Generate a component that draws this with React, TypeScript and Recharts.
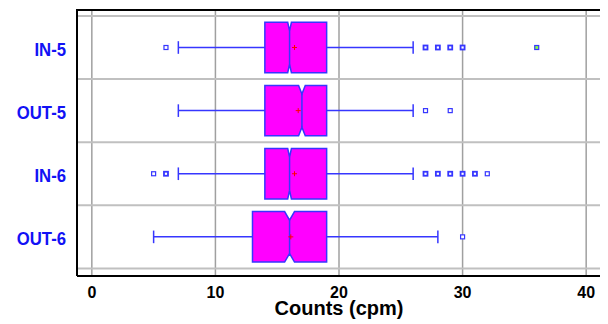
import {
  ScatterChart,
  Scatter,
  XAxis,
  YAxis,
  CartesianGrid,
  ReferenceLine,
  ReferenceArea,
} from "recharts";

const categories = ["IN-5", "OUT-5", "IN-6", "OUT-6"];
const q1 = [14, 14, 14, 13];
const medians = [16, 17, 16, 16];
const q3 = [19, 19, 19, 19];
const whiskerLow = [7, 7, 7, 5];
const whiskerHigh = [26, 26, 26, 28];
const means = [16.4, 16.7, 16.4, 16.1];
const notchHalf = [0.15, 0.27, 0.15, 0.4];
const outliers = [
  [6, 27, 28, 29, 30, 36],
  [27, 29],
  [5, 6, 27, 28, 29, 30, 31, 32],
  [30],
];
const outlierCounts = [
  [1, 3, 3, 3, 2, 1],
  [1, 1],
  [1, 3, 3, 3, 3, 3, 2, 1],
  [1],
];
const farOutliers = [[36], [], [], []];
const xMajorTicks = [0, 10, 20, 30, 40];
const xMinorTicks = [0, 2, 4, 6, 8, 10, 12, 14, 16, 18, 20, 22, 24, 26, 28, 30, 32, 34, 36, 38, 40];
const rowTicks = [1, 2, 3, 4];
const rowEdges = [0.5, 1.5, 2.5, 3.5, 4.5];

const X_DOMAIN = [-1.2, 41.2];
const Y_DOMAIN = [0.39, 4.62];
const BLUE = "#3636ff";
const FONT = "'Liberation Sans', Arial, sans-serif";

const outlierPoints = outliers.flatMap((vals, i) =>
  vals.map((v, j) => ({
    x: v,
    y: i + 1,
    n: outlierCounts[i][j],
    far: farOutliers[i].includes(v),
  })),
);
const meanPoints = means.map((m, i) => ({ x: m, y: i + 1 }));

function NotchedBox(props: any) {
  const { x, y, width, height, idx } = props;
  const lo = q1[idx];
  const hi = q3[idx];
  const px = (v: number) => x + ((v - lo) / (hi - lo)) * width;
  const med = px(medians[idx]);
  const nlo = px(medians[idx] - notchHalf[idx]);
  const nhi = px(medians[idx] + notchHalf[idx]);
  const d = height * 0.17;
  const top = y;
  const bot = y + height;
  const pts = [
    [x, top],
    [nlo, top],
    [med, top + d],
    [nhi, top],
    [x + width, top],
    [x + width, bot],
    [nhi, bot],
    [med, bot - d],
    [nlo, bot],
    [x, bot],
  ]
    .map((p) => p.join(","))
    .join(" ");
  return (
    <g>
      <polygon points={pts} fill="#ff00ff" stroke={BLUE} strokeWidth={1.5} />
      <line x1={med} y1={top + d} x2={med} y2={bot - d} stroke={BLUE} strokeWidth={1.5} />
    </g>
  );
}

function OutlierMark(props: any) {
  const { cx, cy, payload } = props;
  return (
    <rect
      x={cx - 2}
      y={cy - 2}
      width={4}
      height={4}
      fill={payload.far ? "#88ff44" : "#fff"}
      stroke={BLUE}
      strokeWidth={payload.n > 1 ? 1.8 : 1.2}
    />
  );
}

function MeanMark(props: any) {
  const { cx, cy } = props;
  return (
    <g stroke="#ff0000" strokeWidth={1}>
      <line x1={cx - 2.5} y1={cy} x2={cx + 2.5} y2={cy} />
      <line x1={cx} y1={cy - 2.5} x2={cx} y2={cy + 2.5} />
    </g>
  );
}

function RowTick(props: any) {
  const { x, y, payload } = props;
  return (
    <text
      transform={`translate(${x},${y + 8.5}) scale(0.88,1)`}
      textAnchor="end"
      fontSize={19}
      fontWeight="bold"
      fontFamily={FONT}
      fill="#1212f5"
    >
      {categories[payload.value - 1]}
    </text>
  );
}

export default function App() {
  return (
    <div style={{ width: 600, height: 316 }}>
      <ScatterChart
        width={600}
        height={316}
        margin={{ top: 1, right: 7, bottom: 0, left: 0 }}
      >
        <CartesianGrid horizontal={false} stroke="#a0a0a0" strokeWidth={1.5} />
        {rowEdges.map((r) => (
          <ReferenceLine key={r} y={r} stroke="#c0c0c0" strokeWidth={2} />
        ))}
        <XAxis
          type="number"
          dataKey="x"
          domain={X_DOMAIN}
          allowDataOverflow
          ticks={xMajorTicks}
          height={48}
          tickLine={false}
          tickSize={6}
          tickMargin={5}
          axisLine={{ stroke: "#000", strokeWidth: 2 }}
          tick={{ fontSize: 16, fontWeight: "bold", fill: "#000", fontFamily: FONT }}
          label={{
            value: "Counts (cpm)",
            position: "insideBottom",
            offset: 9,
            style: { fontSize: 20, fontWeight: "bold", fill: "#000", fontFamily: FONT },
          }}
        />
        <XAxis
          xAxisId="botMinor"
          type="number"
          domain={X_DOMAIN}
          allowDataOverflow
          ticks={xMinorTicks}
          mirror
          height={1}
          tick={false}
          tickSize={3}
          axisLine={false}
          tickLine={{ stroke: "#000", strokeWidth: 1 }}
        />
        <XAxis
          xAxisId="botMajor"
          type="number"
          domain={X_DOMAIN}
          allowDataOverflow
          ticks={xMajorTicks}
          mirror
          height={1}
          tick={false}
          tickSize={5}
          axisLine={false}
          tickLine={{ stroke: "#000", strokeWidth: 1.5 }}
        />
        <XAxis
          xAxisId="topMinor"
          orientation="top"
          type="number"
          domain={X_DOMAIN}
          allowDataOverflow
          ticks={xMinorTicks}
          mirror
          height={1}
          tick={false}
          tickSize={3}
          axisLine={{ stroke: "#000", strokeWidth: 2 }}
          tickLine={{ stroke: "#000", strokeWidth: 1 }}
        />
        <XAxis
          xAxisId="topMajor"
          orientation="top"
          type="number"
          domain={X_DOMAIN}
          allowDataOverflow
          ticks={xMajorTicks}
          mirror
          height={1}
          tick={false}
          tickSize={5}
          axisLine={false}
          tickLine={{ stroke: "#000", strokeWidth: 1.5 }}
        />
        <YAxis
          type="number"
          dataKey="y"
          domain={Y_DOMAIN}
          allowDataOverflow
          reversed
          ticks={rowTicks}
          width={69}
          tickLine={false}
          tickSize={0}
          tickMargin={11}
          axisLine={{ stroke: "#000", strokeWidth: 2 }}
          tick={<RowTick />}
        />
        <YAxis
          yAxisId="right"
          orientation="right"
          type="number"
          domain={Y_DOMAIN}
          allowDataOverflow
          reversed
          mirror
          width={1}
          ticks={rowTicks}
          tick={false}
          tickLine={false}
          axisLine={{ stroke: "#000", strokeWidth: 2 }}
        />
        {categories.map((c, i) => (
          <ReferenceArea
            key={`box-${c}`}
            x1={q1[i]}
            x2={q3[i]}
            y1={i + 1 - 0.4}
            y2={i + 1 + 0.4}
            shape={(p: any) => <NotchedBox {...p} idx={i} />}
          />
        ))}
        {categories.map((c, i) => (
          <ReferenceLine
            key={`wl-${c}`}
            segment={[
              { x: whiskerLow[i], y: i + 1 },
              { x: q1[i], y: i + 1 },
            ]}
            stroke={BLUE}
            strokeWidth={1.5}
          />
        ))}
        {categories.map((c, i) => (
          <ReferenceLine
            key={`wh-${c}`}
            segment={[
              { x: q3[i], y: i + 1 },
              { x: whiskerHigh[i], y: i + 1 },
            ]}
            stroke={BLUE}
            strokeWidth={1.5}
          />
        ))}
        {categories.map((c, i) => (
          <ReferenceLine
            key={`cl-${c}`}
            segment={[
              { x: whiskerLow[i], y: i + 1 - 0.1 },
              { x: whiskerLow[i], y: i + 1 + 0.1 },
            ]}
            stroke={BLUE}
            strokeWidth={1.5}
          />
        ))}
        {categories.map((c, i) => (
          <ReferenceLine
            key={`ch-${c}`}
            segment={[
              { x: whiskerHigh[i], y: i + 1 - 0.1 },
              { x: whiskerHigh[i], y: i + 1 + 0.1 },
            ]}
            stroke={BLUE}
            strokeWidth={1.5}
          />
        ))}
        <Scatter data={meanPoints} shape={<MeanMark />} isAnimationActive={false} />
        <Scatter data={outlierPoints} shape={<OutlierMark />} isAnimationActive={false} />
      </ScatterChart>
    </div>
  );
}
